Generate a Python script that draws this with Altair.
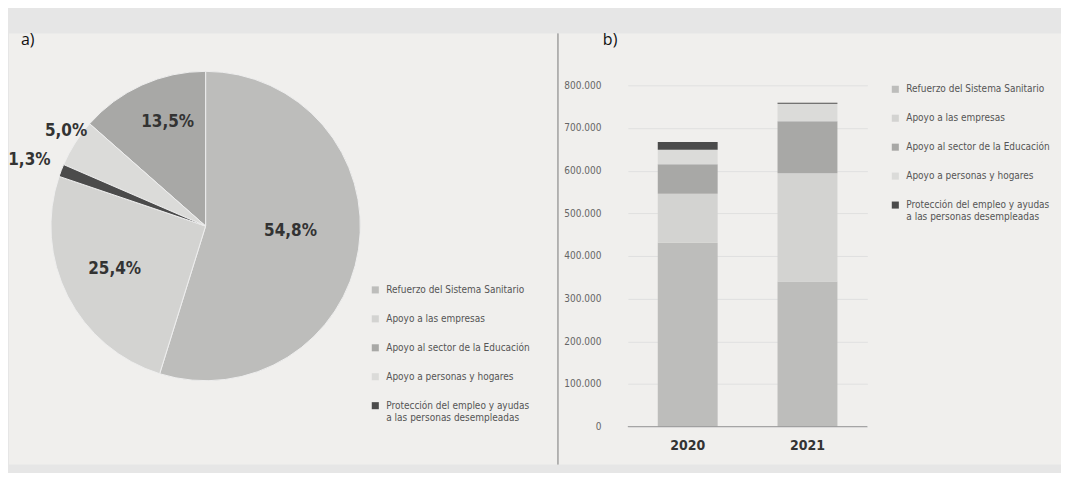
import altair as alt
import pandas as pd

# ---------------- data ----------------
categories = [
    "Refuerzo del Sistema Sanitario",
    "Apoyo a las empresas",
    "Apoyo al sector de la Educación",
    "Apoyo a personas y hogares",
    "Protección del empleo y ayudas a las personas desempleadas",
]
colors = ["#bdbdbb", "#d3d3d1", "#a8a8a6", "#dbdbd9", "#4b4b4b"]

pie_pct = [54.8, 25.4, 13.5, 5.0, 1.3]
pie_labels = ["54,8%", "25,4%", "13,5%", "5,0%", "1,3%"]
pie_order = [0, 1, 4, 3, 2]  # clockwise from 12 o'clock

years = ["2020", "2021"]
bar_2020 = [431000, 115000, 69000, 34000, 18000]
bar_2021 = [340000, 254000, 122000, 41000, 2000]
y_ticks = [0, 100000, 200000, 300000, 400000, 500000, 600000, 700000, 800000]

# ---------------- styling ----------------
NARROW = "Liberation Sans Narrow, DejaVu Sans Condensed, sans-serif"
PANEL = "#f0efed"
OUTER = "#e6e6e6"

pie_df = pd.DataFrame({"category": categories, "pct": pie_pct,
                       "label": pie_labels, "order": pie_order})
bar_rows = []
for yr, vals in zip(years, [bar_2020, bar_2021]):
    for i, (c, v) in enumerate(zip(categories, vals)):
        bar_rows.append({"year": yr, "category": c, "value": v, "order": i})
bar_df = pd.DataFrame(bar_rows)
one = pd.DataFrame({"d": [0]})

label_expr = ("indexof(datum.label, 'Protección') == 0 ? "
              "['Protección del empleo y ayudas', 'a las personas desempleadas'] : datum.label")


def color_enc(lx, ly):
    return alt.Color(
        "category:N",
        scale=alt.Scale(domain=categories, range=colors),
        legend=alt.Legend(
            orient="none", legendX=lx, legendY=ly, title=None,
            symbolType="square", symbolSize=50, symbolStrokeWidth=0,
            labelFont=NARROW, labelFontSize=10, labelColor="#555",
            rowPadding=19, labelLimit=400, labelOffset=6,
            labelExpr=label_expr,
        ),
    )


# ---------------- left panel (pie) ----------------
CX, CY, R = 197, 141, 155
theta_scale = alt.Scale(domain=[0, 100])

outer_rect = alt.Chart(one).mark_rect(color=OUTER).encode(
    x=alt.value(0), x2=alt.value(1054), y=alt.value(-77), y2=alt.value(388))
panel_rect = alt.Chart(one).mark_rect(color=PANEL).encode(
    x=alt.value(0), x2=alt.value(1054), y=alt.value(-52), y2=alt.value(380))
divider = alt.Chart(one).mark_rule(color="#777", strokeWidth=1).encode(
    x=alt.value(550), y=alt.value(-52), y2=alt.value(380))
a_text = alt.Chart(one).mark_text(text="a)", font="Open Sans", fontSize=16,
                                  align="left", baseline="middle", color="#111").encode(
    x=alt.value(12), y=alt.value(-45))
b_text = alt.Chart(one).mark_text(text="b)", font="Open Sans", fontSize=16,
                                  align="left", baseline="middle", color="#111").encode(
    x=alt.value(595), y=alt.value(-45))

pie_base = alt.Chart(pie_df).transform_stack(
    stack="pct", groupby=[], as_=["v0", "v1"],
    sort=[alt.SortField("order", order="ascending")],
).transform_calculate(mid="(datum.v0 + datum.v1) / 2")

arcs = pie_base.mark_arc(outerRadius=R, stroke="#eeeeee", strokeWidth=1).encode(
    theta=alt.Theta("v0:Q", scale=theta_scale, stack=None),
    theta2="v1:Q",
    color=color_enc(362, 200),
    x=alt.value(CX), y=alt.value(CY),
)

label_radius = {"54,8%": 86, "25,4%": 100, "13,5%": 112, "5,0%": 168, "1,3%": 186}
label_shift = {"54,8%": (0, -8), "25,4%": (-2, -2), "13,5%": (8, -2),
               "5,0%": (2, -5), "1,3%": (-3, 1)}
label_layers = []
for lab in pie_labels:
    dx, dy = label_shift[lab]
    label_layers.append(
        pie_base.transform_filter(alt.datum.label == lab).mark_text(
            radius=label_radius[lab], font=NARROW, fontSize=17, fontWeight="bold",
            color="#333", align="center", baseline="middle", dx=dx, dy=dy,
        ).encode(
            theta=alt.Theta("mid:Q", scale=theta_scale, stack=None),
            text="label:N",
            x=alt.value(CX), y=alt.value(CY),
        )
    )

left = alt.layer(outer_rect, panel_rect, divider, a_text, b_text, arcs,
                 *label_layers).properties(width=550, height=342)

# ---------------- right panel (stacked bars) ----------------
bars = alt.Chart(bar_df).mark_bar().encode(
    x=alt.X("year:N", scale=alt.Scale(paddingInner=0.5, paddingOuter=0.25),
            axis=alt.Axis(title=None, labelAngle=0, labelFont=NARROW,
                          labelFontWeight="bold", labelFontSize=14,
                          labelColor="#333", ticks=False, domain=False,
                          labelPadding=12)),
    y=alt.Y("value:Q", stack="zero", scale=alt.Scale(domain=[0, 800000]),
            axis=alt.Axis(title=None, values=y_ticks,
                          labelExpr="replace(format(datum.value, ','), ',', '.')",
                          grid=True, gridColor="#e0e0e0", gridWidth=1,
                          domain=False, ticks=False, labelPadding=27,
                          labelFont=NARROW, labelFontSize=10, labelColor="#666")),
    color=color_enc(263, -1),
    order=alt.Order("order:Q", sort="ascending"),
)
zero_rule = alt.Chart(one).mark_rule(color="#9a9a9a", strokeWidth=1).encode(
    y=alt.datum(0))

right = alt.layer(bars, zero_rule).properties(width=240, height=342)

chart = alt.hconcat(left, right, spacing=70, bounds="flush").resolve_scale(
    color="independent"
).properties(
    padding=0, background=OUTER
).configure_view(stroke=None)

chart.save("out.html", embed_options={"renderer": "svg", "actions": False})
